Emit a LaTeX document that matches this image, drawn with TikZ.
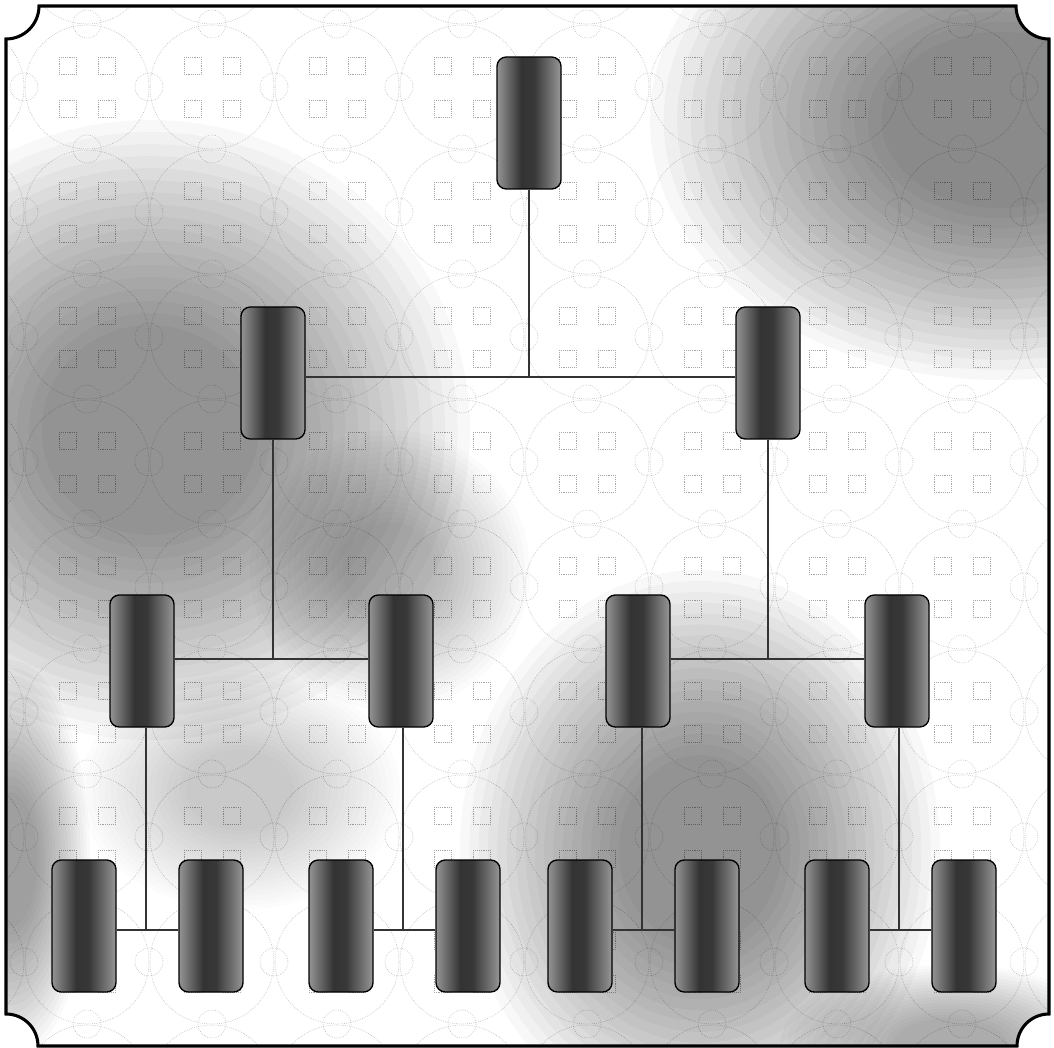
\documentclass[tikz,border=0pt]{standalone}
\pgfdeclarehorizontalshading{boxshade}{100bp}{color(0bp)=(black!42); color(25bp)=(black!42); color(30bp)=(black!52); color(44bp)=(black!80); color(54bp)=(black!78); color(70bp)=(black!50); color(75bp)=(black!40); color(100bp)=(black!40)}
\newcommand{\hazeblob}[5]{%
  \foreach \s in {1,...,18}{%
    \fill[black, fill opacity=#5] (#1,#2) ellipse ({#3*(0.3+0.7*\s/18)} and {#4*(0.3+0.7*\s/18)});
  }}
\begin{document}
\begin{tikzpicture}[x=0.75pt,y=-0.75pt,
  box/.style={draw=black, line width=1pt, rounded corners=7pt,
    minimum width=48pt, minimum height=99pt, inner sep=0pt,
    shading=boxshade},
  link/.style={draw=black!80, line width=0.9pt},
  pat/.style={draw=black!35, densely dotted, line width=0.4pt},
  frame/.style={draw=black, line width=2.3pt}]
\useasboundingbox (0,0) rectangle (1054,1048);
\fill[white] (0,0) rectangle (1054,1048);
\begin{scope}
  \clip (39,6) -- (1016,6) .. controls (1016,24.2) and (1030.8,39) .. (1049,39)
    -- (1049,1014) .. controls (1031.3,1014) and (1017,1028.3) .. (1017,1046)
    -- (38,1046) .. controls (38,1028.3) and (23.7,1014) .. (6,1014)
    -- (6,39) .. controls (24.2,39) and (39,24.2) .. (39,6) -- cycle;
  % background pattern
  \foreach \i in {-4,...,5}{
    \foreach \j in {-4,...,5}{
      \draw[pat] ({462+125*\i},{462+125*\j}) circle (62);
      \draw[pat] ({462+125*\i+62},{462+125*\j}) circle (14);
      \draw[pat] ({462+125*\i},{462+125*\j+62}) circle (14);
      \draw[pat] ({462+125*\i-28},{462+125*\j-30}) rectangle +(17,17);
      \draw[pat] ({462+125*\i+11},{462+125*\j-30}) rectangle +(17,17);
      \draw[pat] ({462+125*\i-28},{462+125*\j+13}) rectangle +(17,17);
      \draw[pat] ({462+125*\i+11},{462+125*\j+13}) rectangle +(17,17);
    }}
  % grey haze
  \hazeblob{150}{430}{320}{310}{0.026}
  \hazeblob{390}{570}{140}{140}{0.016}
  \hazeblob{1000}{120}{350}{260}{0.03}
  \hazeblob{700}{850}{240}{280}{0.028}
  \hazeblob{10}{860}{80}{200}{0.022}
  \hazeblob{240}{790}{160}{120}{0.011}
  \hazeblob{950}{1045}{170}{80}{0.018}
\end{scope}
\draw[frame] (39,6) -- (1016,6) .. controls (1016,24.2) and (1030.8,39) .. (1049,39)
    -- (1049,1014) .. controls (1031.3,1014) and (1017,1028.3) .. (1017,1046)
    -- (38,1046) .. controls (38,1028.3) and (23.7,1014) .. (6,1014)
    -- (6,39) .. controls (24.2,39) and (39,24.2) .. (39,6) -- cycle;
% nodes
\node[box] (r) at (529,123) {};
\node[box] (a) at (273,373) {};
\node[box] (b) at (768,373) {};
\node[box] (c) at (142,661) {};
\node[box] (d) at (401,661) {};
\node[box] (e) at (638,661) {};
\node[box] (f) at (897,661) {};
\node[box] (g) at (84,926) {};
\node[box] (h) at (211,926) {};
\node[box] (i) at (341,926) {};
\node[box] (j) at (468,926) {};
\node[box] (k) at (580,926) {};
\node[box] (l) at (707,926) {};
\node[box] (m) at (837,926) {};
\node[box] (n) at (964,926) {};
% junctions
\coordinate (j0) at (529,377);
\coordinate (j1) at (273,659);
\coordinate (j2) at (768,659);
\coordinate (k1) at (146,930);
\coordinate (k2) at (403,930);
\coordinate (k3) at (642,930);
\coordinate (k4) at (899,930);
% connectors
\draw[link] (r.south) -- (j0);
\draw[link] (a.east |- j0) -- (b.west |- j0);
\draw[link] (a.south) -- (j1);
\draw[link] (c.east |- j1) -- (d.west |- j1);
\draw[link] (b.south) -- (j2);
\draw[link] (e.east |- j2) -- (f.west |- j2);
\draw[link] (c.south -| k1) -- (k1);
\draw[link] (g.east |- k1) -- (h.west |- k1);
\draw[link] (d.south -| k2) -- (k2);
\draw[link] (i.east |- k2) -- (j.west |- k2);
\draw[link] (e.south -| k3) -- (k3);
\draw[link] (k.east |- k3) -- (l.west |- k3);
\draw[link] (f.south -| k4) -- (k4);
\draw[link] (m.east |- k4) -- (n.west |- k4);
\end{tikzpicture}
\end{document}
